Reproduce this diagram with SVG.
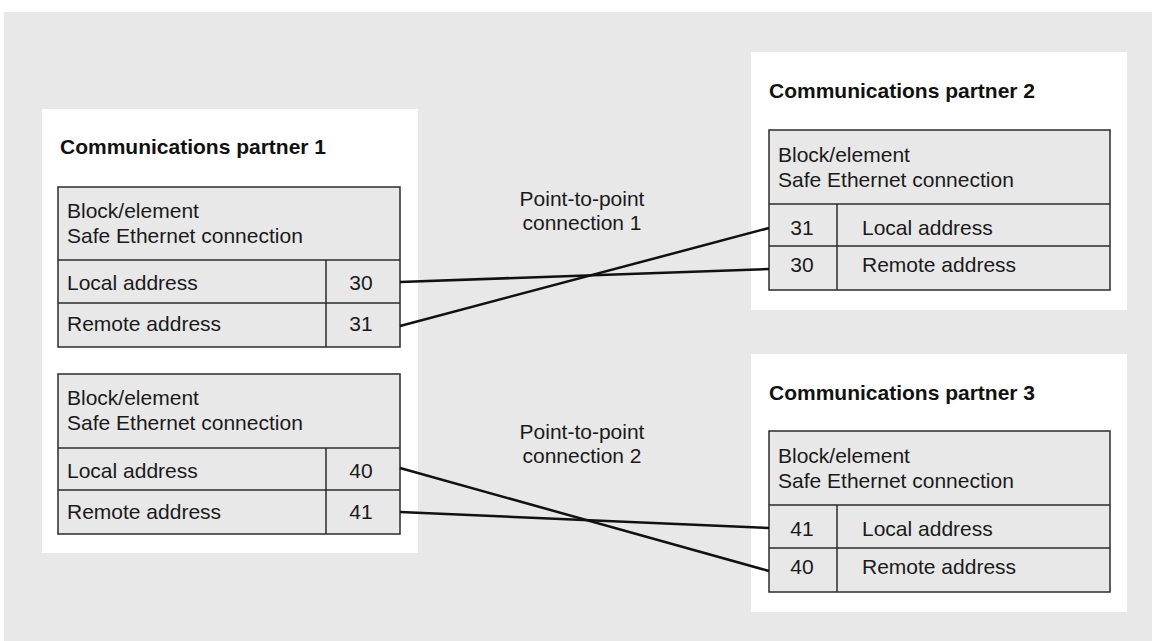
<svg xmlns="http://www.w3.org/2000/svg" width="1152" height="641" viewBox="0 0 1152 641">
<style>
.bg{fill:#e8e8e8}
.panel{fill:#ffffff}
.tbl{fill:#e8e8e8;stroke:#2b2b2b;stroke-width:1.5}
.ln{stroke:#2b2b2b;stroke-width:1.5;fill:none}
.t{font-family:"Liberation Sans",Arial,Helvetica,sans-serif;font-size:21px;fill:#1a1a1a}
.b{font-family:"Liberation Sans",Arial,Helvetica,sans-serif;font-size:21px;font-weight:bold;fill:#111}
.c{text-anchor:middle}
.conn{stroke:#111;stroke-width:2.5;fill:none}
</style>
<rect x="0" y="0" width="1152" height="641" fill="#ffffff"/>
<rect class="bg" x="4" y="12" width="1148" height="629"/>

<g id="partner1">
<rect class="panel" x="42" y="109" width="376" height="444"/>
<text class="b" x="60" y="154">Communications partner 1</text>
<g id="p1-block1">
<rect class="tbl" x="58" y="187" width="342" height="160"/>
<line class="ln" x1="58" y1="260" x2="400" y2="260"/>
<line class="ln" x1="58" y1="303" x2="400" y2="303"/>
<line class="ln" x1="326" y1="260" x2="326" y2="347"/>
<text class="t" x="67" y="218">Block/element</text>
<text class="t" x="67" y="243">Safe Ethernet connection</text>
<text class="t" x="67" y="290">Local address</text>
<text class="t" x="67" y="331">Remote address</text>
<text class="t c" x="361" y="290">30</text>
<text class="t c" x="361" y="331">31</text>
</g>
<g id="p1-block2">
<rect class="tbl" x="58" y="374" width="342" height="160"/>
<line class="ln" x1="58" y1="448" x2="400" y2="448"/>
<line class="ln" x1="58" y1="490" x2="400" y2="490"/>
<line class="ln" x1="326" y1="448" x2="326" y2="534"/>
<text class="t" x="67" y="405">Block/element</text>
<text class="t" x="67" y="430">Safe Ethernet connection</text>
<text class="t" x="67" y="478">Local address</text>
<text class="t" x="67" y="519">Remote address</text>
<text class="t c" x="361" y="478">40</text>
<text class="t c" x="361" y="519">41</text>
</g>
</g>

<g id="partner2">
<rect class="panel" x="751" y="52" width="376" height="258"/>
<text class="b" x="769" y="98">Communications partner 2</text>
<rect class="tbl" x="769" y="130" width="341" height="160"/>
<line class="ln" x1="769" y1="204" x2="1110" y2="204"/>
<line class="ln" x1="769" y1="246" x2="1110" y2="246"/>
<line class="ln" x1="837" y1="204" x2="837" y2="290"/>
<text class="t" x="778" y="162">Block/element</text>
<text class="t" x="778" y="187">Safe Ethernet connection</text>
<text class="t c" x="802" y="235">31</text>
<text class="t" x="862" y="235">Local address</text>
<text class="t c" x="802" y="272">30</text>
<text class="t" x="862" y="272">Remote address</text>
</g>

<g id="partner3">
<rect class="panel" x="751" y="354" width="376" height="258"/>
<text class="b" x="769" y="400">Communications partner 3</text>
<rect class="tbl" x="769" y="431" width="341" height="161"/>
<line class="ln" x1="769" y1="505" x2="1110" y2="505"/>
<line class="ln" x1="769" y1="548" x2="1110" y2="548"/>
<line class="ln" x1="837" y1="505" x2="837" y2="592"/>
<text class="t" x="778" y="463">Block/element</text>
<text class="t" x="778" y="488">Safe Ethernet connection</text>
<text class="t c" x="802" y="536">41</text>
<text class="t" x="862" y="536">Local address</text>
<text class="t c" x="802" y="574">40</text>
<text class="t" x="862" y="574">Remote address</text>
</g>

<g id="connectors">
<line class="conn" x1="400" y1="282" x2="769" y2="269"/>
<line class="conn" x1="400" y1="326" x2="769" y2="228"/>
<line class="conn" x1="400" y1="468" x2="769" y2="571"/>
<line class="conn" x1="400" y1="512" x2="769" y2="528"/>
</g>

<g id="labels">
<text class="t c" x="582" y="206">Point-to-point</text>
<text class="t c" x="582" y="230">connection 1</text>
<text class="t c" x="582" y="439">Point-to-point</text>
<text class="t c" x="582" y="463">connection 2</text>
</g>
</svg>
